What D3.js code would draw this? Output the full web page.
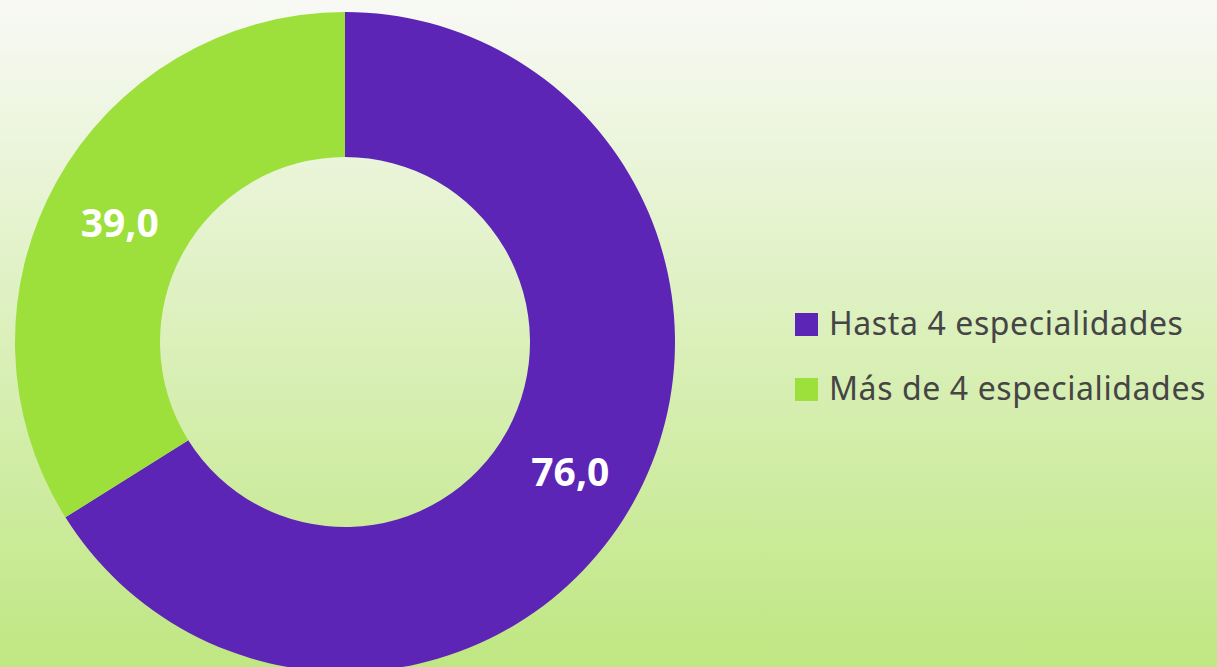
<!DOCTYPE html>
<html>
<head>
<meta charset="utf-8">
<script src="https://cdn.jsdelivr.net/npm/d3@7"></script>
<style>
  html, body { margin: 0; padding: 0; }
  body { width: 1217px; height: 667px; overflow: hidden; }
</style>
</head>
<body>
<div id="chart"></div>
<script>
// datos
const categories = ["Hasta 4 especialidades", "Más de 4 especialidades"];
const values = [76.0, 39.0];
const colors = ["#5c25b5", "#9ddf3b"];

let width = 1217;
let height = 667;
let cx = 345, cy = 342;
let outerR = 330, innerR = 185;

let svg = d3.select("#chart")
    .append("svg")
    .attr("width", width)
    .attr("height", height);

// fondo degradado
let grad = svg.append("defs").append("linearGradient")
    .attr("id", "bg")
    .attr("x1", 0).attr("y1", 0).attr("x2", 0).attr("y2", 1);
grad.append("stop").attr("offset", "0%").attr("stop-color", "#f8f9f5");
grad.append("stop").attr("offset", "100%").attr("stop-color", "#bfe782");

svg.append("rect")
    .attr("width", width)
    .attr("height", height)
    .attr("fill", "url(#bg)");

let datas = categories.map((c, i) => ({ id: i, name: c, value: values[i] }));

let color = d3.scaleOrdinal()
    .domain(categories)
    .range(colors);

let pie = d3.pie()
    .sort(null)
    .value(d => d.value);

let arcGenerator = d3.arc()
    .innerRadius(innerR)
    .outerRadius(outerR);

let g = svg.append("g")
    .attr("transform", "translate(" + cx + "," + cy + ")");

let data_ready = pie(datas);

g.selectAll("path")
    .data(data_ready)
    .enter()
    .append("path")
    .attr("d", arcGenerator)
    .attr("fill", d => color(d.data.name));

g.selectAll("text")
    .data(data_ready)
    .enter()
    .append("text")
    .attr("transform", d => "translate(" + arcGenerator.centroid(d) + ")")
    .attr("text-anchor", "middle")
    .attr("dy", "0.5em")
    .style("font-family", "'Noto Sans', sans-serif")
    .style("font-weight", "bold")
    .style("font-size", "39px")
    .style("fill", "#ffffff")
    .text(d => d3.format(".1f")(d.data.value).replace(".", ","));

// leyenda
let legendCellSize = 23;
let legend = svg.append("g")
    .attr("transform", "translate(795,313)");

legend.selectAll("rect")
    .data(datas)
    .enter().append("rect")
    .attr("x", 0)
    .attr("y", (d, i) => i * 65)
    .attr("width", legendCellSize)
    .attr("height", legendCellSize)
    .attr("fill", d => color(d.name));

legend.selectAll("text")
    .data(datas)
    .enter().append("text")
    .attr("x", legendCellSize + 11)
    .attr("y", (d, i) => i * 65 + legendCellSize - 1)
    .style("font-family", "'Noto Sans', sans-serif")
    .style("font-size", "32px")
    .style("letter-spacing", "0.6px")
    .style("fill", "#454545")
    .text(d => d.name);
</script>
</body>
</html>
